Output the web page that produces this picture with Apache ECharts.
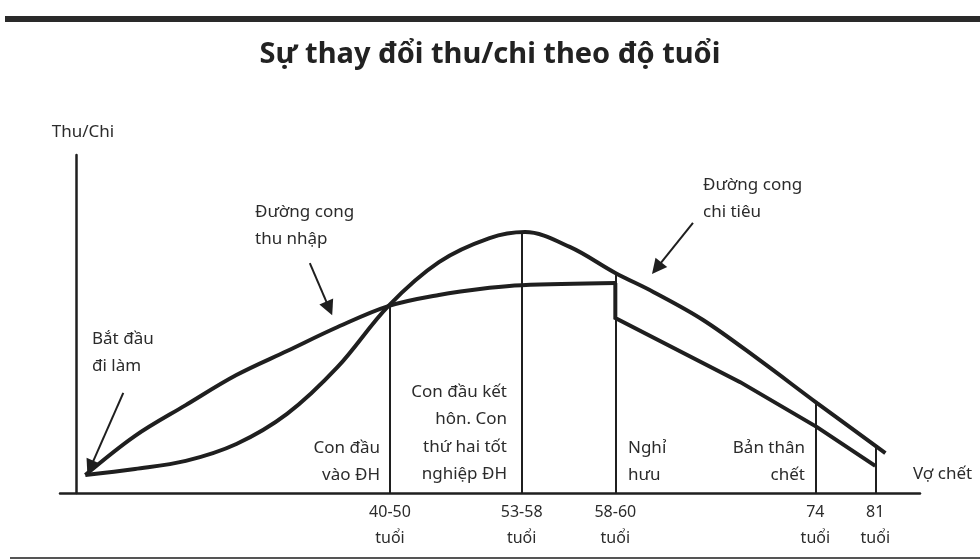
<!DOCTYPE html>
<html>
<head>
<meta charset="utf-8">
<script src="https://cdn.jsdelivr.net/npm/echarts@6/dist/echarts.min.js"></script>
<style>
  html, body { margin: 0; padding: 0; background: #fff; }
  #chart { width: 980px; height: 560px; }
</style>
</head>
<body>
<div id="chart"></div>
<script>
// hinh minh hoa: thu nhap / chi tieu theo do tuoi (don vi tuong doi 0-100)
var expenseCurve = [
  [1.1, 5.3], [7, 7.1], [13, 9.5], [19, 14.5], [25, 23.4], [31, 37.3],
  [37, 55.3], [43, 68.3], [49, 75.4], [53.2, 77.2], [58.5, 72.8], [63.9, 65.1],
  [68.4, 59.5], [74.3, 51.2], [81.0, 39.3], [87.8, 26.6], [95.9, 11.8]
]
var incomeWorking = [
  [1.1, 5.3], [7, 16.9], [13, 26.0], [19, 34.9], [25, 42.0], [31, 49.1],
  [37, 55.3], [43, 58.6], [49, 60.7], [52.8, 61.5], [63.9, 62.1]
]
var incomeRetired = [[63.9, 62.1], [63.9, 51.8], [78.7, 32.8], [87.8, 19.5], [94.7, 8.0]]

// moc tuoi tren truc hoanh
var milestoneX = [37.2, 52.8, 63.9, 87.6, 94.7]
var milestoneTop = [55.3, 77.3, 65.1, 26.8, 13.3]
var milestoneLabels = ['40-50\ntuổi', '53-58\ntuổi', '58-60\ntuổi', '74\ntuổi', '81\ntuổi']

// mui ten chu thich [tu, den]
var arrows = [
  [[27.7, 68.0], [30.0, 54.6]],
  [[73.1, 79.9], [68.8, 66.5]],
  [[5.6, 29.6], [1.7, 7.5]]
]

var ink = '#1f1f1f'
var textColor = '#2b2b2b'
var font = 'Noto Sans'

var note = (x, y, text, align) => ({
  type: 'text',
  x: x,
  y: y,
  silent: true,
  style: {
    text: text,
    fill: textColor,
    font: '17px "' + font + '"',
    textAlign: align,
    textVerticalAlign: 'top',
    lineHeight: 27.5
  }
})

var chart = echarts.init(document.getElementById('chart'), null, {renderer: 'canvas'})

chart.setOption({
  animation: false,
  title: {
    text: 'Sự thay đổi thu/chi theo độ tuổi',
    left: 'center',
    top: 35,
    textStyle: {
      fontFamily: font,
      fontSize: 29,
      fontWeight: 'bold',
      color: '#222'
    }
  },
  grid: {
    left: 60,
    right: 60,
    top: 155,
    bottom: 67,
    containLabel: false
  },
  xAxis: {
    type: 'value',
    min: -1.9,
    max: 100,
    splitLine: { show: false },
    axisTick: { show: false },
    axisLine: {
      lineStyle: { color: ink, width: 2.5 }
    },
    axisLabel: {
      customValues: milestoneX,
      margin: 6,
      lineHeight: 26,
      fontFamily: font,
      fontSize: 16,
      color: textColor,
      formatter: (val) => {
        let i = milestoneX.indexOf(val)
        return i >= 0 ? milestoneLabels[i] : ''
      }
    }
  },
  yAxis: {
    type: 'value',
    min: 0,
    max: 100,
    name: 'Thu/Chi',
    nameLocation: 'end',
    nameGap: 14,
    nameTextStyle: {
      fontFamily: font,
      fontSize: 17,
      color: textColor,
      padding: [0, 0, 0, 14]
    },
    splitLine: { show: false },
    axisTick: { show: false },
    axisLabel: { show: false },
    axisLine: {
      onZero: true,
      lineStyle: { color: ink, width: 2.5 }
    }
  },
  series: [{
    name: 'Chi tiêu',
    type: 'line',
    smooth: 0.35,
    symbol: 'none',
    lineStyle: { color: ink, width: 4 },
    data: expenseCurve,
    z: 3,
    markLine: {
      silent: true,
      symbol: 'none',
      label: { show: false },
      lineStyle: { type: 'solid', color: ink, width: 2 },
      data: milestoneX.map((x, i) => [{ coord: [x, 0] }, { coord: [x, milestoneTop[i]] }])
    }
  }, {
    name: 'Thu nhập',
    type: 'line',
    smooth: 0.35,
    symbol: 'none',
    lineStyle: { color: ink, width: 4 },
    data: incomeWorking,
    z: 3,
    markLine: {
      silent: true,
      symbol: ['none', 'triangle'],
      symbolSize: 15,
      label: { show: false },
      lineStyle: { type: 'solid', color: ink, width: 2 },
      itemStyle: { color: ink },
      data: arrows.map((a) => [{ coord: a[0] }, { coord: a[1] }])
    }
  }, {
    name: 'Thu nhập sau nghỉ hưu',
    type: 'line',
    symbol: 'none',
    lineStyle: { color: ink, width: 4, join: 'miter' },
    data: incomeRetired,
    z: 3
  }],
  graphic: [
    { type: 'rect', shape: { x: 5, y: 16, width: 975, height: 6 }, style: { fill: '#2a2a2a' }, silent: true },
    { type: 'rect', shape: { x: 10, y: 557, width: 970, height: 2 }, style: { fill: '#555' }, silent: true },
    note(255, 198, 'Đường cong\nthu nhập', 'left'),
    note(703, 171, 'Đường cong\nchi tiêu', 'left'),
    note(92, 325, 'Bắt đầu\nđi làm', 'left'),
    note(380, 434, 'Con đầu\nvào ĐH', 'right'),
    note(507, 378, 'Con đầu kết\nhôn. Con\nthứ hai tốt\nnghiệp ĐH', 'right'),
    note(628, 434, 'Nghỉ\nhưu', 'left'),
    note(805, 434, 'Bản thân\nchết', 'right'),
    note(913, 460, 'Vợ chết', 'left')
  ]
})
</script>
</body>
</html>
